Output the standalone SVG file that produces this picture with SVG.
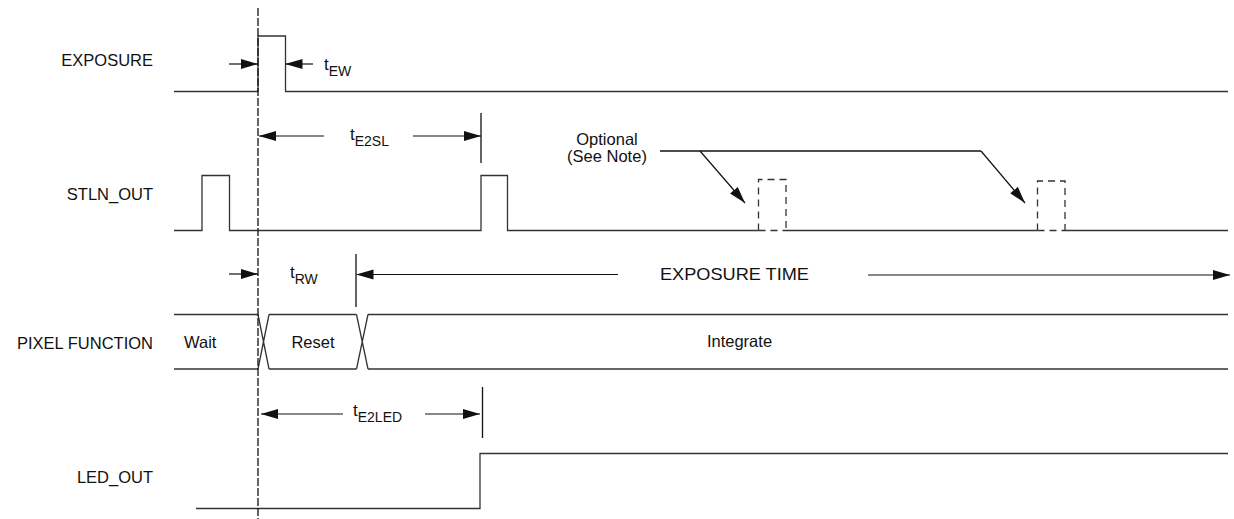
<svg xmlns="http://www.w3.org/2000/svg" width="1234" height="519" viewBox="0 0 1234 519">
<style>
text{font-family:"Liberation Sans",Arial,sans-serif;font-size:16.5px;fill:#111}
.lbl{text-anchor:end}
.t{font-size:17px}
.sub{font-size:14px}
.sig{fill:none;stroke:#333;stroke-width:1.3}
.dsh{fill:none;stroke:#333;stroke-width:1.3;stroke-dasharray:7 5}
.arr{fill:none;stroke:#111;stroke-width:1.2;marker-end:url(#ah)}
.mk{fill:none;stroke:#111;stroke-width:1.3}
.ref{fill:none;stroke:#111;stroke-width:1.3;stroke-dasharray:8 2}
</style>
<defs>
<marker id="ah" viewBox="0 0 17 11" refX="17" refY="5.5" markerWidth="17" markerHeight="11" markerUnits="userSpaceOnUse" orient="auto">
<path d="M0,0.5 L17,5.5 L0,10.5 z" fill="#111"/>
</marker>
</defs>
<rect width="1234" height="519" fill="#fff"/>

<g id="exposure">
<text class="lbl" x="153" y="66">EXPOSURE</text>
<path class="sig" d="M174,91.5 H258 V36 H285.5 V91.5 H1228"/>
</g>

<g id="stln_out">
<text class="lbl" x="153" y="200">STLN_OUT</text>
<path class="sig" d="M174,230.5 H202 V175.5 H229.5 V230.5 H481 V175.5 H507.5 V230.5 H758.5 M786,230.5 H1037.5 M1065,230.5 H1228"/>
<path class="dsh" d="M758.5,230.5 V179.5 H786 V230.5 M758.5,230.5 H786"/>
<path class="dsh" d="M1037.5,230.5 V181 H1065 V230.5 M1037.5,230.5 H1065"/>
</g>

<g id="pixel_function">
<text class="lbl" x="153" y="349">PIXEL FUNCTION</text>
<path class="sig" d="M174,314.5 H258 M269,314.5 H356.5 M368,314.5 H1228 M174,369 H258 M269,369 H356.5 M368,369 H1228"/>
<path class="sig" stroke-width="1" d="M258,314.5 L269,369 M269,314.5 L258,369 M356.5,314.5 L368,369 M368,314.5 L356.5,369"/>
<text x="184" y="348">Wait</text>
<text x="313" y="348" text-anchor="middle">Reset</text>
<text x="739.5" y="347" text-anchor="middle">Integrate</text>
</g>

<g id="led_out">
<text class="lbl" x="153" y="483">LED_OUT</text>
<path class="sig" d="M196,508.5 H480 V453.5 H1228"/>
</g>

<g id="annotations">
<text class="t" x="324" y="70">t<tspan class="sub" dy="6">EW</tspan></text>
<text class="t" x="350" y="140">t<tspan class="sub" dy="6">E2SL</tspan></text>
<text class="t" x="290" y="278">t<tspan class="sub" dy="5.5">RW</tspan></text>
<text class="t" x="353" y="416">t<tspan class="sub" dy="5.5">E2LED</tspan></text>
<text x="734.5" y="280" text-anchor="middle" textLength="149" lengthAdjust="spacingAndGlyphs">EXPOSURE TIME</text>
<text x="607" y="145" text-anchor="middle">Optional</text>
<text x="607" y="162" text-anchor="middle">(See Note)</text>
</g>

<g id="connectors">
<line class="ref" x1="258" y1="8" x2="258" y2="519"/>
<line class="mk" x1="481" y1="113" x2="481" y2="163"/>
<line class="mk" x1="356" y1="254" x2="356" y2="307"/>
<line class="mk" x1="482.5" y1="387" x2="482.5" y2="438"/>
<line class="arr" x1="229" y1="64" x2="258" y2="64"/>
<line class="arr" x1="313" y1="64" x2="285.5" y2="64"/>
<line class="arr" x1="324" y1="136" x2="259" y2="136"/>
<line class="arr" x1="413" y1="136" x2="481" y2="136"/>
<line class="arr" x1="229" y1="274" x2="258" y2="274"/>
<line class="arr" x1="618" y1="274.5" x2="356.5" y2="274.5"/>
<line class="arr" x1="868" y1="275" x2="1230" y2="275"/>
<line class="arr" x1="343" y1="414" x2="261" y2="414"/>
<line class="arr" x1="425" y1="414" x2="480" y2="414"/>
<path class="mk" stroke-width="1" d="M660,151 H981"/>
<line class="arr" stroke-width="1" x1="700" y1="151" x2="745" y2="203"/>
<line class="arr" stroke-width="1" x1="981" y1="151" x2="1025" y2="203"/>
</g>
</svg>
